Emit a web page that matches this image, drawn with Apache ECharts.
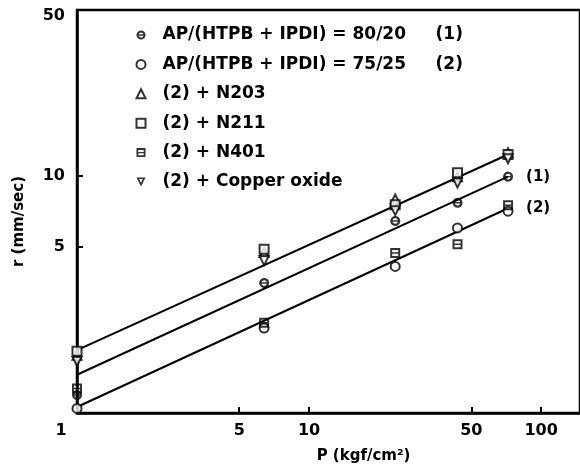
<!DOCTYPE html>
<html>
<head>
<meta charset="utf-8">
<script src="https://cdn.jsdelivr.net/npm/echarts@6/dist/echarts.min.js"></script>
<style>
  html, body { margin: 0; padding: 0; background: #fff; }
  #chart { width: 580px; height: 472px; }
</style>
</head>
<body>
<div id="chart"></div>
<script>
// pressure, kgf/cm2
var pressure = [1, 6.4, 23.5, 43.6, 72];

// burning rate r, mm/sec
var rate8020 = [1.19, 3.53, 6.45, 7.70, 9.92];
var rate7525 = [1.045, 2.28, 4.15, 6.03, 7.09];
var rateN203 = [1.75, 4.75, 7.98, 9.9, 12.5];
var rateN211 = [1.82, 4.9, 7.55, 10.3, 12.3];
var rateN401 = [1.27, 2.4, 4.73, 5.14, 7.51];
var rateCuO = [1.65, 4.39, 7.13, 9.32, 11.8];

// fitted lines (end points)
var fitP = [1, 72];
var fitUpper = [1.84, 12.3];
var fitMiddle = [1.45, 9.92];
var fitLower = [1.06, 7.3];

var xLabels = [1, 5, 10, 50, 100];
var xTicks = [5, 10, 50, 100];
var yLabels = [5, 10, 50];
var yTicks = [5, 10];

var names = [
  'AP/(HTPB + IPDI) = 80/20     (1)',
  'AP/(HTPB + IPDI) = 75/25     (2)',
  '(2) + N203',
  '(2) + N211',
  '(2) + N401',
  '(2) + Copper oxide'
];

var FONT = 'DejaVu Sans';
// circle with bar, square with bar (built from pieces that do not overlap)
var thetaCircle = 'path://M0.11,8.5A10,10 0 0,1 19.89,8.5L15.29,8.5A5.5,5.5 0 0,0 4.71,8.5Z' +
  'M0.11,11.5A10,10 0 0,0 19.89,11.5L15.29,11.5A5.5,5.5 0 0,1 4.71,11.5Z' +
  'M0,8.5H20V11.5H0Z';
var thetaRect = 'path://M0,0H20V8.5H16V4H4V8.5H0Z' +
  'M0,11.5H4V16H16V11.5H20V20H0Z' +
  'M0,8.5H20V11.5H0Z';
// outlined downward triangle for the legend
var downTriangle = 'path://M0,0L20,0L10,20Z M6,3.5L10,11.5L14,3.5Z';

function pairs(xs, ys) {
  return xs.map(function (x, i) { return [x, ys[i]]; });
}

function dots(name, ys, symbol, rotate) {
  var solid = symbol.indexOf('path://') === 0;
  return {
    name: name,
    type: 'scatter',
    data: pairs(pressure, ys),
    symbol: symbol,
    symbolSize: solid ? 10 : 9,
    symbolRotate: rotate || 0,
    itemStyle: { color: '#000', borderColor: '#000', borderWidth: solid ? 0 : 1.8 },
    z: 4
  };
}

function fit(ys, tag) {
  return {
    type: 'line',
    data: pairs(fitP, ys),
    symbol: 'none',
    silent: true,
    lineStyle: { color: '#000', width: 2 },
    endLabel: {
      show: !!tag,
      formatter: tag,
      distance: 18,
      color: '#000',
      fontFamily: FONT,
      fontWeight: 'bold',
      fontSize: 15
    },
    z: 2
  };
}

var legendData = names.map(function (n, i) {
  return i === 5
    ? { name: n, icon: downTriangle, itemStyle: { color: '#000', borderWidth: 0 } }
    : { name: n };
});

var myChart = echarts.init(document.getElementById('chart'));
var option = {
  backgroundColor: '#fff',
  animation: false,
  grid: {
    left: 77, right: -5, top: 10, bottom: 59,
    show: true, borderColor: '#000', borderWidth: 2.5
  },
  legend: {
    data: legendData,
    orient: 'vertical',
    left: 130.5,
    top: 20,
    itemWidth: 9,
    itemHeight: 9,
    itemGap: 9.4,
    selectedMode: false,
    textStyle: {
      fontFamily: FONT, fontWeight: 'bold', fontSize: 17, color: '#000',
      lineHeight: 20, padding: [0, 0, 0, 12]
    }
  },
  xAxis: {
    type: 'log',
    logBase: 10,
    min: 1,
    max: 147,
    name: 'P (kgf/cm²)',
    nameLocation: 'middle',
    nameGap: 36,
    nameTextStyle: {
      fontFamily: FONT, fontWeight: 'bold', fontSize: 15, color: '#000',
      padding: [0, 0, 0, 70]
    },
    axisLine: { lineStyle: { color: '#000', width: 2.5 } },
    axisTick: { inside: true, length: 6, customValues: xTicks, lineStyle: { color: '#000', width: 2 } },
    axisLabel: {
      customValues: xLabels,
      margin: 10,
      color: '#000',
      fontFamily: FONT, fontWeight: 'bold', fontSize: 16,
      formatter: function (v) {
        return v === 1 ? '{one|1}' : String(v);
      },
      rich: {
        one: { fontFamily: FONT, fontWeight: 'bold', fontSize: 16, color: '#000', padding: [0, 32, 0, 0] }
      }
    },
    splitLine: { show: false }
  },
  yAxis: {
    type: 'log',
    logBase: 10,
    min: 1,
    max: 50,
    name: 'r (mm/sec)',
    nameLocation: 'middle',
    nameGap: 50,
    nameRotate: 90,
    nameTextStyle: {
      fontFamily: FONT, fontWeight: 'bold', fontSize: 15, color: '#000',
      padding: [0, 20, 0, 0]
    },
    axisLine: { lineStyle: { color: '#000', width: 2.5 } },
    axisTick: { inside: true, length: 6, customValues: yTicks, lineStyle: { color: '#000', width: 2 } },
    axisLabel: {
      customValues: yLabels,
      margin: 12,
      color: '#000',
      fontFamily: FONT, fontWeight: 'bold', fontSize: 16,
      formatter: function (v) {
        return v === 50 ? '{top|50}' : String(v);
      },
      rich: {
        top: { fontFamily: FONT, fontWeight: 'bold', fontSize: 16, color: '#000', padding: [12, 0, 0, 0] }
      }
    },
    splitLine: { show: false }
  },
  series: [
    fit(fitUpper, null),
    fit(fitMiddle, '(1)'),
    fit(fitLower, '(2)'),
    dots(names[0], rate8020, thetaCircle),
    dots(names[1], rate7525, 'emptyCircle'),
    dots(names[2], rateN203, 'emptyTriangle'),
    dots(names[3], rateN211, 'emptyRect'),
    dots(names[4], rateN401, thetaRect),
    dots(names[5], rateCuO, 'emptyTriangle', 180)
  ]
};
myChart.setOption(option);
</script>
</body>
</html>
